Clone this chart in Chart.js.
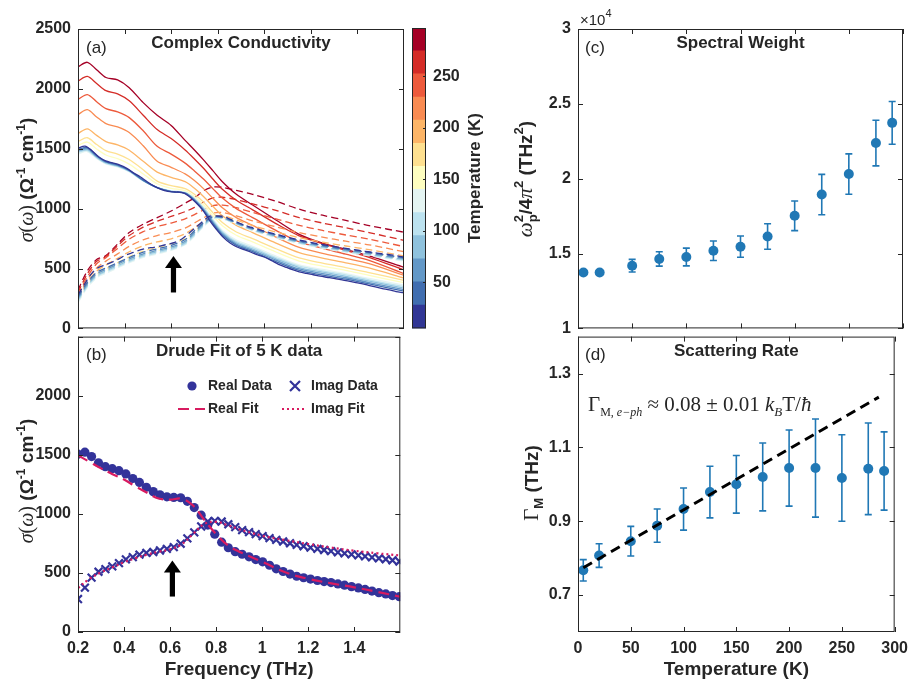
<!DOCTYPE html>
<html>
<head>
<meta charset="utf-8">
<script src="https://cdn.jsdelivr.net/npm/chart.js@4.4.1/dist/chart.umd.min.js"></script>
<style>
  body { margin: 0; background: #fff; width: 915px; height: 681px; position: relative; overflow: hidden; }
  canvas { position: absolute; }
</style>
</head>
<body>
<canvas id="panelA" style="left:0;top:0" width="408" height="345"></canvas>
<canvas id="panelB" style="left:0;top:320px" width="408" height="361"></canvas>
<canvas id="cbar" style="left:405px;top:0" width="100" height="345"></canvas>
<canvas id="panelC" style="left:500px;top:0" width="410" height="345"></canvas>
<canvas id="panelD" style="left:500px;top:320px" width="415" height="361"></canvas>
<script>
// ---------- data ----------
const temps = [5, 20, 50, 75, 100, 125, 150, 175, 200, 225, 250, 275, 290];
const tempColors = ['#313695', '#416eb0', '#6398c7', '#8fc2dd', '#bce2ef', '#e4f4f2', '#fefec0',
                    '#fee090', '#fdb567', '#f98b52', '#ed5a3c', '#d42c27', '#a50026'];

const freqTicks = [0.2, 0.4, 0.6, 0.8, 1, 1.2, 1.4];
const sigmaTicks = [0, 500, 1000, 1500, 2000, 2500];
const tempTicks = [0, 50, 100, 150, 200, 250, 300];
const weightTicks = [10000, 15000, 20000, 25000, 30000];
const rateTicks = [0.7, 0.9, 1.1, 1.3];
const cbarTicks = [50, 100, 150, 200, 250];
const cbarRange = [5, 297];

// 5 K measured data (panel b, also the 5 K curves of panel a)
const freqData = [0.200, 0.230, 0.259, 0.289, 0.319, 0.349, 0.378, 0.408, 0.438, 0.467, 0.497, 0.527,
  0.556, 0.586, 0.616, 0.646, 0.675, 0.705, 0.735, 0.764, 0.794, 0.824, 0.853, 0.883, 0.913, 0.943,
  0.972, 1.002, 1.032, 1.061, 1.091, 1.121, 1.150, 1.180, 1.210, 1.240, 1.269, 1.299, 1.329, 1.358,
  1.388, 1.418, 1.447, 1.477, 1.507, 1.537, 1.566, 1.596];
const realData5K = [1505, 1522, 1485, 1432, 1399, 1382, 1365, 1338, 1299, 1266, 1225, 1188, 1161, 1144,
  1139, 1136, 1106, 1053, 989, 905, 828, 760, 713, 680, 658, 636, 613, 594, 565, 535, 512, 490, 472,
  459, 448, 436, 427, 418, 407, 396, 384, 373, 360, 346, 333, 322, 308, 299];
const imagData5K = [279, 376, 460, 510, 532, 556, 583, 615, 634, 655, 670, 677, 690, 703, 718, 747, 792,
  843, 893, 935, 940, 935, 912, 888, 862, 845, 828, 812, 795, 780, 766, 751, 738, 726, 714, 703, 694,
  684, 674, 666, 657, 648, 640, 631, 624, 616, 607, 597];

// Drude fit of the 5 K data
const fitFreq = [0.2, 0.25, 0.3, 0.35, 0.4, 0.45, 0.5, 0.55, 0.6, 0.65, 0.7, 0.75, 0.8, 0.85, 0.9,
  1.0, 1.1, 1.2, 1.3, 1.4, 1.5, 1.6];
const realFit = [1495, 1440, 1385, 1335, 1290, 1232, 1178, 1130, 1120, 1128, 1070, 945, 828, 735, 680,
  595, 505, 450, 412, 378, 340, 298];
const imagFit = [372, 450, 505, 548, 590, 625, 655, 680, 700, 742, 830, 915, 932, 905, 870, 815, 778,
  745, 714, 688, 666, 648];

// other temperatures (panel a)
const aFreq = [0.2, 0.24, 0.28, 0.32, 0.37, 0.42, 0.48, 0.54, 0.6, 0.66, 0.7, 0.74, 0.78, 0.82, 0.88,
  0.95, 1.05, 1.15, 1.25, 1.35, 1.45, 1.6];
const re20  = [1495, 1510, 1444, 1393, 1366, 1321, 1238, 1175, 1142, 1127, 1068, 982, 875, 778, 693, 641, 558, 484, 445, 411, 371, 311];
const re50  = [1485, 1501, 1437, 1388, 1361, 1317, 1236, 1175, 1143, 1129, 1073, 989, 884, 788, 704, 652, 570, 496, 457, 423, 383, 323];
const re75  = [1476, 1493, 1431, 1383, 1357, 1314, 1234, 1176, 1145, 1131, 1078, 996, 893, 798, 715, 663, 581, 508, 469, 435, 395, 336];
const re100 = [1467, 1485, 1425, 1378, 1353, 1311, 1233, 1177, 1147, 1134, 1083, 1003, 902, 808, 726, 674, 592, 519, 481, 447, 406, 348];
const re125 = [1458, 1477, 1419, 1374, 1349, 1308, 1232, 1178, 1149, 1137, 1088, 1010, 911, 818, 737, 685, 603, 530, 492, 458, 417, 360];
const re150 = [1528, 1556, 1498, 1448, 1418, 1372, 1290, 1208, 1170, 1150, 1100, 1030, 940, 858, 778, 722, 638, 562, 520, 485, 442, 382];
const re175 = [1560, 1592, 1535, 1484, 1455, 1410, 1325, 1230, 1192, 1168, 1120, 1052, 965, 885, 805, 750, 665, 588, 545, 508, 466, 401];
const re200 = [1628, 1666, 1612, 1560, 1532, 1488, 1395, 1305, 1262, 1225, 1170, 1100, 1018, 940, 860, 800, 712, 632, 587, 548, 505, 421];
const re225 = [1786, 1826, 1766, 1710, 1682, 1635, 1525, 1395, 1345, 1290, 1235, 1165, 1085, 1008, 925, 860, 762, 676, 627, 585, 540, 443];
const re250 = [1912, 1952, 1893, 1835, 1808, 1760, 1650, 1520, 1455, 1380, 1315, 1245, 1165, 1088, 1000, 925, 818, 722, 668, 620, 568, 457];
const re275 = [2066, 2104, 2045, 1985, 1958, 1900, 1780, 1660, 1585, 1490, 1415, 1335, 1245, 1162, 1070, 990, 875, 773, 708, 652, 594, 488];
const re290 = [2184, 2222, 2160, 2095, 2075, 2010, 1885, 1780, 1695, 1570, 1490, 1405, 1315, 1225, 1120, 1030, 905, 785, 712, 660, 605, 510];

const im20  = [265, 385, 468, 505, 548, 592, 636, 664, 693, 742, 815, 885, 932, 930, 885, 836, 781, 732, 694, 662, 634, 590];
const im50  = [252, 372, 455, 492, 536, 580, 623, 651, 680, 728, 800, 875, 928, 925, 880, 830, 775, 725, 688, 655, 627, 582];
const im75  = [240, 360, 443, 480, 524, 568, 611, 640, 669, 716, 788, 865, 925, 922, 876, 825, 769, 719, 681, 648, 620, 575];
const im100 = [228, 350, 432, 470, 514, 558, 601, 630, 659, 706, 778, 857, 920, 918, 872, 820, 763, 713, 675, 642, 613, 568];
const im125 = [215, 340, 422, 460, 505, 549, 592, 622, 651, 698, 770, 850, 915, 915, 870, 816, 758, 708, 669, 636, 607, 562];
const im150 = [225, 350, 435, 478, 525, 572, 618, 648, 678, 725, 792, 862, 915, 915, 872, 820, 765, 716, 678, 645, 616, 568];
const im175 = [240, 365, 452, 498, 548, 598, 645, 676, 705, 750, 810, 872, 920, 922, 882, 832, 778, 730, 692, 660, 631, 580];
const im200 = [255, 385, 478, 530, 585, 640, 690, 722, 748, 790, 840, 892, 935, 940, 905, 858, 805, 758, 720, 688, 658, 605];
const im225 = [268, 405, 505, 562, 622, 685, 740, 775, 800, 838, 880, 925, 962, 968, 940, 898, 848, 800, 762, 728, 698, 640];
const im250 = [285, 430, 540, 590, 668, 745, 808, 850, 880, 915, 950, 990, 1025, 1030, 1008, 968, 915, 860, 818, 780, 745, 683];
const im275 = [300, 455, 560, 600, 690, 775, 845, 895, 935, 975, 1010, 1055, 1090, 1095, 1075, 1040, 985, 925, 880, 840, 800, 735];
const im290 = [320, 480, 575, 608, 705, 800, 870, 925, 980, 1045, 1090, 1150, 1180, 1178, 1152, 1120, 1062, 995, 945, 902, 858, 803];

const realByTemp = [realData5K, re20, re50, re75, re100, re125, re150, re175, re200, re225, re250, re275, re290];
const imagByTemp = [imagData5K, im20, im50, im75, im100, im125, im150, im175, im200, im225, im250, im275, im290];

// arrow marking the feature near 0.61 THz
const arrowFreq = 0.61, arrowBase = 300, arrowTip = 605;

// panels c and d
const spectralWeight = [13730, 13730, 14190, 14640, 14770, 15190, 15460, 16140, 17520, 18940, 20310, 22380, 23730];
const spectralErr    = [100, 100, 420, 480, 590, 650, 710, 850, 990, 1350, 1350, 1520, 1430];
const scatterRate = [0.767, 0.807, 0.846, 0.888, 0.933, 0.979, 1.000, 1.020, 1.044, 1.044, 1.017, 1.042, 1.036];
const scatterErr  = [0.029, 0.032, 0.040, 0.045, 0.057, 0.070, 0.078, 0.092, 0.103, 0.133, 0.117, 0.124, 0.106];
const fitT = [5, 285];
const fitRate = [0.774, 1.236];

// ---------- style ----------
const ink = '#262626';
const SANS = '"Liberation Sans", Arial, sans-serif';
const SERIF = '"Liberation Serif", "DejaVu Serif", serif';
const tickFont = { family: SANS, size: 16, weight: 'bold' };
const dataBlue = '#33339a';
const fitRed = '#d81b60';
const markBlue = '#2078b5';

Chart.defaults.font.family = SANS;
Chart.defaults.color = ink;

function pts(xs, ys) { return xs.map((x, i) => ({ x: x, y: ys[i] })); }

function axis(o) {
  return {
    type: 'linear', min: o.min, max: o.max, position: o.position,
    grid: { display: false, drawTicks: false },
    border: { display: false },
    ticks: { display: o.labels !== false, padding: 7, color: ink, font: tickFont,
             autoSkip: false, maxRotation: 0, callback: o.fmt || (v => String(v)) },
    afterBuildTicks: s => { s.ticks = o.ticks.map(v => ({ value: v })); },
    afterFit: s => { if (o.w != null) s.width = o.w; if (o.h != null) s.height = o.h; },
    title: o.title || { display: false }
  };
}

function drawRich(ctx, runs, x, y, rot, align) {
  ctx.save();
  ctx.translate(x, y);
  if (rot) ctx.rotate(rot);
  ctx.fillStyle = ink;
  ctx.textBaseline = 'alphabetic';
  ctx.textAlign = 'left';
  let total = 0;
  runs.forEach(r => {
    ctx.font = r.f;
    r.w = r.up !== undefined
      ? Math.max(ctx.measureText(r.up).width, ctx.measureText(r.down).width)
      : ctx.measureText(r.t).width;
    total += r.w;
  });
  let u = align === 'left' ? 0 : -total / 2;
  runs.forEach(r => {
    ctx.font = r.f;
    if (r.up !== undefined) {
      ctx.fillText(r.up, u, r.upDy);
      ctx.fillText(r.down, u, r.downDy);
    } else {
      ctx.fillText(r.t, u, r.dy || 0);
    }
    u += r.w;
  });
  ctx.restore();
}

function drawText(ctx, text, x, y, font, align) {
  ctx.save();
  ctx.font = font; ctx.fillStyle = ink;
  ctx.textAlign = align || 'center'; ctx.textBaseline = 'middle';
  ctx.fillText(text, x, y);
  ctx.restore();
}

// box with inward ticks on all four sides, like the original axes
const boxPlugin = {
  id: 'matBox',
  afterDatasetsDraw(chart) {
    const { ctx, chartArea: a, scales } = chart;
    const L = 5;
    ctx.save();
    ctx.strokeStyle = ink; ctx.lineWidth = 1;
    ctx.beginPath();
    scales.x.ticks.forEach(t => {
      const p = Math.round(scales.x.getPixelForValue(t.value)) + 0.5;
      ctx.moveTo(p, a.bottom); ctx.lineTo(p, a.bottom - L);
      ctx.moveTo(p, a.top); ctx.lineTo(p, a.top + L);
    });
    scales.y.ticks.forEach(t => {
      const p = Math.round(scales.y.getPixelForValue(t.value)) + 0.5;
      ctx.moveTo(a.left, p); ctx.lineTo(a.left + L, p);
      ctx.moveTo(a.right, p); ctx.lineTo(a.right - L, p);
    });
    ctx.stroke();
    ctx.strokeRect(a.left + 0.5, a.top + 0.5, a.right - a.left - 1, a.bottom - a.top - 1);
    ctx.restore();
  }
};

function arrowPlugin() {
  return {
    id: 'arrow',
    afterDatasetsDraw(chart) {
      const { ctx, scales: { x, y } } = chart;
      const px = x.getPixelForValue(arrowFreq);
      const yb = y.getPixelForValue(arrowBase);
      const yt = y.getPixelForValue(arrowTip);
      ctx.save();
      ctx.fillStyle = '#000';
      ctx.fillRect(px - 2.6, yt + 11, 5.2, yb - yt - 11);
      ctx.beginPath();
      ctx.moveTo(px, yt); ctx.lineTo(px + 8.5, yt + 12); ctx.lineTo(px - 8.5, yt + 12);
      ctx.closePath(); ctx.fill();
      ctx.restore();
    }
  };
}

function errorBars(vals, errs) {
  return {
    id: 'errbars',
    beforeDatasetsDraw(chart) {
      const { ctx, scales: { x, y } } = chart;
      ctx.save();
      ctx.strokeStyle = markBlue; ctx.lineWidth = 1.6;
      ctx.beginPath();
      temps.forEach((T, i) => {
        const px = x.getPixelForValue(T);
        const lo = y.getPixelForValue(vals[i] - errs[i]);
        const hi = y.getPixelForValue(vals[i] + errs[i]);
        ctx.moveTo(px, lo); ctx.lineTo(px, hi);
        ctx.moveTo(px - 3.5, lo); ctx.lineTo(px + 3.5, lo);
        ctx.moveTo(px - 3.5, hi); ctx.lineTo(px + 3.5, hi);
      });
      ctx.stroke();
      ctx.restore();
    }
  };
}

const sigmaLabel = [
  { t: 'σ', f: 'italic 20px ' + SERIF },
  { t: '(', f: '20px ' + SERIF },
  { t: 'ω', f: 'italic 20px ' + SERIF },
  { t: ')', f: '20px ' + SERIF },
  { t: ' (Ω', f: 'bold 19px ' + SANS },
  { t: '-1', f: 'bold 12px ' + SANS, dy: -8 },
  { t: ' cm', f: 'bold 19px ' + SANS },
  { t: '-1', f: 'bold 12px ' + SANS, dy: -8 },
  { t: ')', f: 'bold 19px ' + SANS }
];

const baseOpts = {
  responsive: false, animation: false, events: [],
  plugins: { legend: { display: false }, tooltip: { enabled: false } }
};

// ---------- panel (a) ----------
const dsA = [];
temps.forEach((T, i) => {
  const xs = i === 0 ? freqData : aFreq;
  dsA.push({ data: pts(xs, realByTemp[i]), borderColor: tempColors[i], borderWidth: 1.3,
             pointRadius: 0, tension: 0.3, fill: false });
  dsA.push({ data: pts(xs, imagByTemp[i]), borderColor: tempColors[i], borderWidth: 1.3,
             borderDash: [7, 4], pointRadius: 0, tension: 0.3, fill: false });
});

new Chart(document.getElementById('panelA'), {
  type: 'line',
  data: { datasets: dsA },
  options: Object.assign({}, baseOpts, {
    layout: { padding: { top: 29, right: 4, left: 0, bottom: 0 } },
    scales: {
      x: axis({ min: 0.2, max: 1.6, ticks: freqTicks, labels: false, h: 15 }),
      y: axis({ min: 0, max: 2500, ticks: sigmaTicks, w: 78 })
    }
  }),
  plugins: [boxPlugin, arrowPlugin(), {
    id: 'decoA',
    afterDraw(chart) {
      const { ctx, chartArea: a } = chart;
      drawText(ctx, 'Complex Conductivity', (a.left + a.right) / 2, a.top + 14, 'bold 17px ' + SANS);
      drawText(ctx, '(a)', a.left + 8, a.top + 19, '17px ' + SANS, 'left');
      drawRich(ctx, sigmaLabel, 33, 180, -Math.PI / 2);
    }
  }]
});

// ---------- panel (b) ----------
new Chart(document.getElementById('panelB'), {
  type: 'line',
  data: {
    datasets: [
      { data: pts(fitFreq, realFit), borderColor: fitRed, borderWidth: 2.2, borderDash: [11, 6],
        pointRadius: 0, tension: 0.4 },
      { data: pts(fitFreq, imagFit), borderColor: fitRed, borderWidth: 2.2, borderDash: [2, 3],
        pointRadius: 0, tension: 0.4 },
      { data: pts(freqData, realData5K), showLine: false, pointStyle: 'circle', pointRadius: 4.6,
        pointBackgroundColor: dataBlue, pointBorderWidth: 0 },
      { data: pts(freqData, imagData5K), showLine: false, pointStyle: 'crossRot', pointRadius: 5.5,
        pointBorderColor: dataBlue, pointBorderWidth: 2.2 }
    ]
  },
  options: Object.assign({}, baseOpts, {
    layout: { padding: { top: 10, right: 4, left: 0, bottom: 0 } },
    scales: {
      x: axis({ min: 0.2, max: 1.6, ticks: freqTicks, h: 49,
                title: { display: true, text: 'Frequency (THz)', color: ink,
                         font: { family: SANS, size: 19, weight: 'bold' }, padding: { top: 0, bottom: 0 } } }),
      y: axis({ min: 0, max: 2500, ticks: sigmaTicks, w: 78, fmt: v => (v === 2500 ? '' : String(v)) })
    }
  }),
  plugins: [boxPlugin, arrowPlugin(), {
    id: 'decoB',
    afterDraw(chart) {
      const { ctx, chartArea: a } = chart;
      drawText(ctx, 'Drude Fit of 5 K data', (a.left + a.right) / 2, a.top + 15, 'bold 17px ' + SANS);
      drawText(ctx, '(b)', a.left + 8, a.top + 19, '17px ' + SANS, 'left');
      drawRich(ctx, sigmaLabel, 33, 161, -Math.PI / 2);
      // legend
      const lf = 'bold 14px ' + SANS;
      ctx.save();
      ctx.fillStyle = dataBlue;
      ctx.beginPath(); ctx.arc(192, 66, 4.6, 0, Math.PI * 2); ctx.fill();
      ctx.strokeStyle = dataBlue; ctx.lineWidth = 2.2;
      ctx.beginPath();
      ctx.moveTo(290, 61); ctx.lineTo(300, 71); ctx.moveTo(300, 61); ctx.lineTo(290, 71);
      ctx.stroke();
      ctx.strokeStyle = fitRed; ctx.lineWidth = 2.2;
      ctx.setLineDash([11, 6]);
      ctx.beginPath(); ctx.moveTo(178, 89); ctx.lineTo(205, 89); ctx.stroke();
      ctx.setLineDash([2, 3]);
      ctx.beginPath(); ctx.moveTo(282, 89); ctx.lineTo(306, 89); ctx.stroke();
      ctx.restore();
      drawText(ctx, 'Real Data', 208, 66, lf, 'left');
      drawText(ctx, 'Imag Data', 311, 66, lf, 'left');
      drawText(ctx, 'Real Fit', 208, 89, lf, 'left');
      drawText(ctx, 'Imag Fit', 311, 89, lf, 'left');
    }
  }]
});

// ---------- colorbar ----------
const nBands = tempColors.length;
const bandStep = (cbarRange[1] - cbarRange[0]) / nBands;
new Chart(document.getElementById('cbar'), {
  type: 'bar',
  data: {
    labels: ['T'],
    datasets: tempColors.map((c, i) => ({
      data: [[cbarRange[0] + i * bandStep, cbarRange[0] + (i + 1) * bandStep + 0.3]],
      backgroundColor: c, borderWidth: 0, barPercentage: 1, categoryPercentage: 1, grouped: false
    }))
  },
  options: Object.assign({}, baseOpts, {
    layout: { padding: { top: 28, left: 7, right: 0, bottom: 15 } },
    scales: {
      x: { type: 'category', display: false },
      y: Object.assign(axis({ min: cbarRange[0], max: cbarRange[1], ticks: cbarTicks, w: 79 }),
                       { position: 'right' })
    }
  }),
  plugins: [{
    id: 'cbarDeco',
    afterDatasetsDraw(chart) {
      const { ctx, chartArea: a, scales: { y } } = chart;
      ctx.save();
      ctx.strokeStyle = ink; ctx.lineWidth = 1;
      ctx.strokeRect(a.left + 0.5, a.top + 0.5, a.right - a.left - 1, a.bottom - a.top - 1);
      ctx.beginPath();
      y.ticks.forEach(t => {
        const p = Math.round(y.getPixelForValue(t.value)) + 0.5;
        ctx.moveTo(a.right, p); ctx.lineTo(a.right - 3, p);
      });
      ctx.stroke();
      ctx.restore();
      drawRich(ctx, [{ t: 'Temperature (K)', f: 'bold 17px ' + SANS }], 75, 178, -Math.PI / 2);
    }
  }]
});

// ---------- panel (c) ----------
new Chart(document.getElementById('panelC'), {
  type: 'scatter',
  data: {
    datasets: [{ data: pts(temps, spectralWeight), pointRadius: 5, pointBackgroundColor: markBlue,
                 pointBorderWidth: 0 }]
  },
  options: Object.assign({}, baseOpts, {
    layout: { padding: { top: 29, right: 7, left: 0, bottom: 0 } },
    scales: {
      x: axis({ min: 0, max: 300, ticks: tempTicks, labels: false, h: 15 }),
      y: axis({ min: 10000, max: 30000, ticks: weightTicks, w: 78, fmt: v => String(v / 10000) })
    }
  }),
  plugins: [errorBars(spectralWeight, spectralErr), boxPlugin, {
    id: 'decoC',
    afterDraw(chart) {
      const { ctx, chartArea: a } = chart;
      drawText(ctx, 'Spectral Weight', (a.left + a.right) / 2, a.top + 14, 'bold 17px ' + SANS);
      drawText(ctx, '(c)', a.left + 7, a.top + 19, '17px ' + SANS, 'left');
      drawRich(ctx, [{ t: '×10', f: '15px ' + SANS }, { t: '4', f: '11px ' + SANS, dy: -8 }],
               80, 25, 0, 'left');
      drawRich(ctx, [
        { t: 'ω', f: 'italic 21px ' + SERIF },
        { up: '2', down: 'p', f: 'bold 13px ' + SANS, upDy: -9, downDy: 5 },
        { t: '/4', f: 'bold 19px ' + SANS },
        { t: 'π', f: 'italic 21px ' + SERIF },
        { t: '2', f: 'bold 13px ' + SANS, dy: -9 },
        { t: ' (THz', f: 'bold 19px ' + SANS },
        { t: '2', f: 'bold 13px ' + SANS, dy: -9 },
        { t: ')', f: 'bold 19px ' + SANS }
      ], 32, 179, -Math.PI / 2);
    }
  }]
});

// ---------- panel (d) ----------
new Chart(document.getElementById('panelD'), {
  type: 'scatter',
  data: {
    datasets: [
      { data: pts(fitT, fitRate), showLine: true, borderColor: '#000', borderWidth: 3,
        borderDash: [10, 6], pointRadius: 0 },
      { data: pts(temps, scatterRate), pointRadius: 5, pointBackgroundColor: markBlue, pointBorderWidth: 0 }
    ]
  },
  options: Object.assign({}, baseOpts, {
    layout: { padding: { top: 10, right: 12, left: 0, bottom: 0 } },
    scales: {
      x: axis({ min: 0, max: 300, ticks: tempTicks, h: 49,
                title: { display: true, text: 'Temperature (K)', color: ink,
                         font: { family: SANS, size: 19, weight: 'bold' }, padding: { top: 0, bottom: 0 } } }),
      y: axis({ min: 0.6, max: 1.4, ticks: rateTicks, w: 78 })
    }
  }),
  plugins: [errorBars(scatterRate, scatterErr), boxPlugin, {
    id: 'decoD',
    afterDraw(chart) {
      const { ctx, chartArea: a } = chart;
      drawText(ctx, 'Scattering Rate', (a.left + a.right) / 2, a.top + 15, 'bold 17px ' + SANS);
      drawText(ctx, '(d)', a.left + 7, a.top + 19, '17px ' + SANS, 'left');
      drawRich(ctx, [
        { t: 'Γ', f: '21px ' + SERIF },
        { t: 'M', f: 'bold 13px ' + SANS, dy: 5 },
        { t: ' (THz)', f: 'bold 19px ' + SANS }
      ], 38, 163, -Math.PI / 2);
      drawRich(ctx, [
        { t: 'Γ', f: '21px ' + SERIF },
        { t: 'M, ', f: '12px ' + SERIF, dy: 5 },
        { t: 'e−ph', f: 'italic 12px ' + SERIF, dy: 5 },
        { t: ' ≈ 0.08 ± 0.01 ', f: '21px ' + SERIF },
        { t: 'k', f: 'italic 21px ' + SERIF },
        { t: 'B', f: 'italic 13px ' + SERIF, dy: 5 },
        { t: 'T/', f: '21px ' + SERIF },
        { t: 'ħ', f: 'italic 21px ' + SERIF }
      ], 88, 91, 0, 'left');
    }
  }]
});
</script>
</body>
</html>
